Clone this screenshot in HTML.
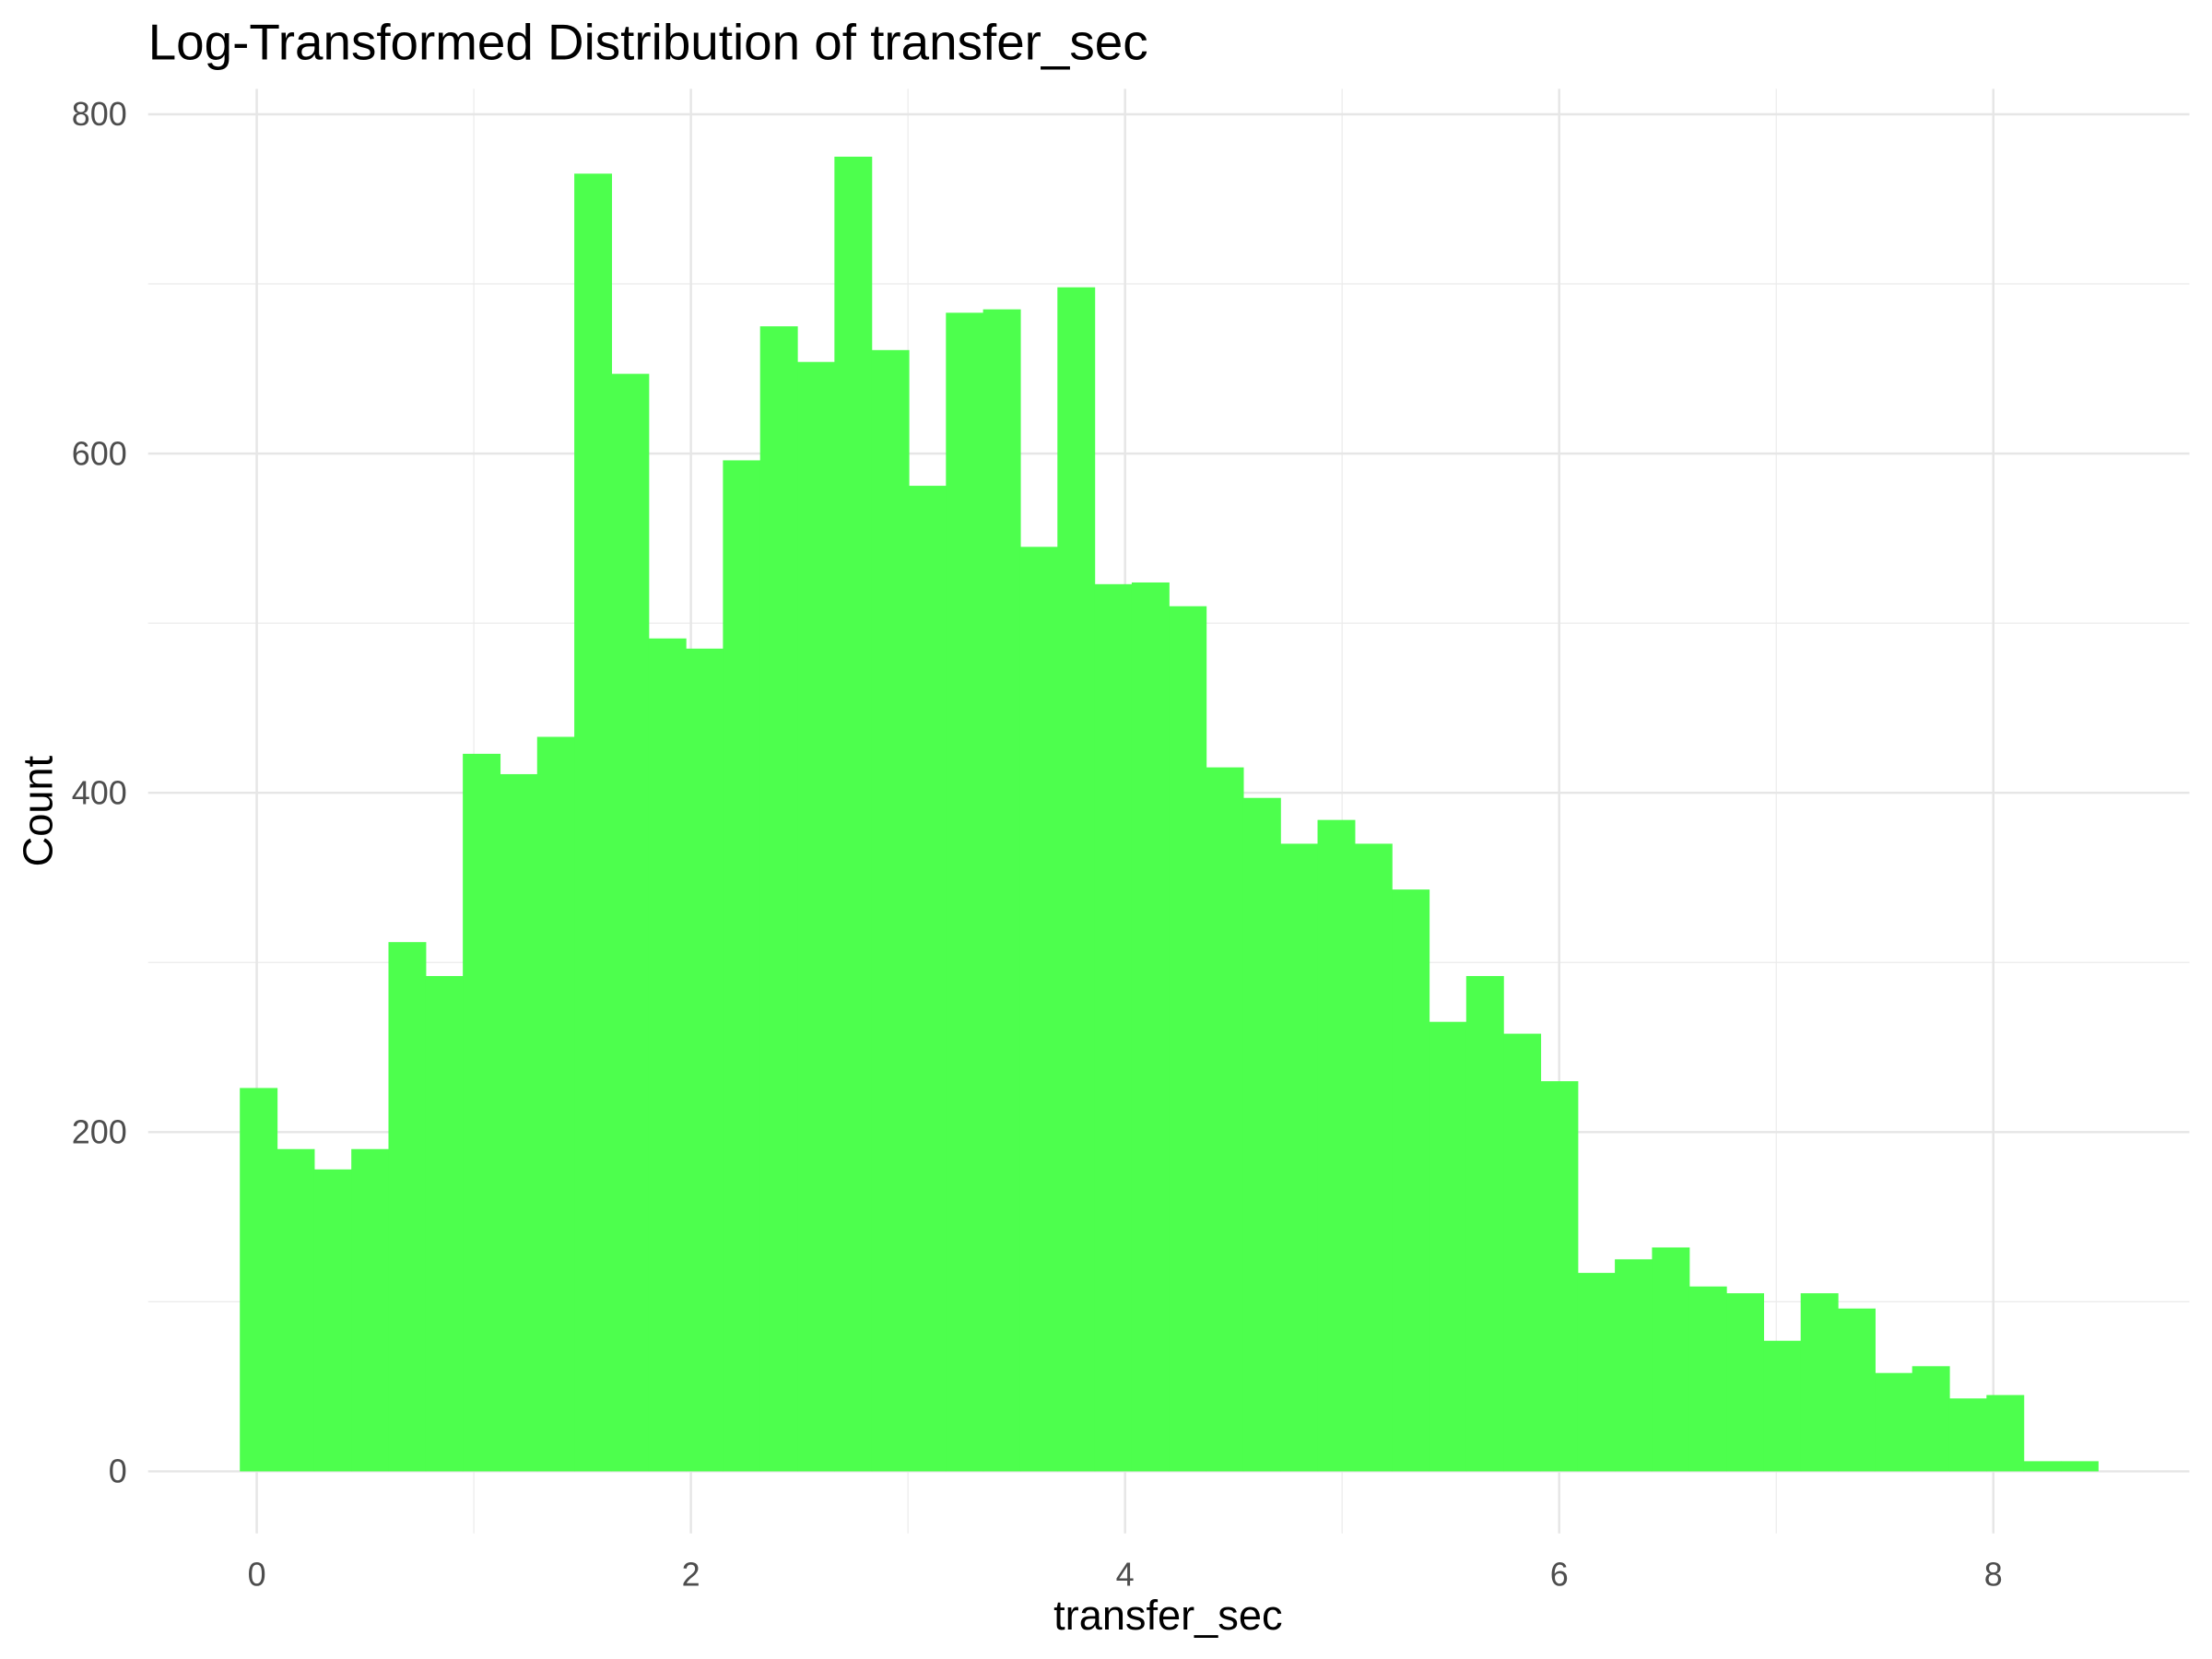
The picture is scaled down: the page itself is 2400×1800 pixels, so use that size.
<!DOCTYPE html>
<html><head><meta charset="utf-8"><style>
html,body{margin:0;padding:0;background:#fff;}
svg{display:block;font-family:"Liberation Sans",Arial,sans-serif;}
</style></head><body>
<svg id="chart" width="2400" height="1800" viewBox="0 0 1568 1176" xmlns="http://www.w3.org/2000/svg">
<g id="grid"></g>
<g id="bars"></g>
<g id="xticks"></g>
<g id="yticks"></g>
<text x="105" y="42" font-size="35.8" fill="#000">Log-Transformed Distribution of transfer_sec</text>
<text x="828" y="1155" font-size="29.5" text-anchor="middle" fill="#000">transfer_sec</text>
<text transform="translate(37,575) rotate(-90)" font-size="29.5" text-anchor="middle" fill="#000">Count</text>
</svg>
<script>
const counts=[226,190,178,190,312,292,423,411,433,765,647,491,485,596,675,654,775,661,581,683,685,545,698,523,524,510,415,397,370,384,370,343,265,292,258,230,117,125,132,109,105,77,105,96,58,62,43,45,6,6];
const binStart=-0.078;
const binWidth=0.1712;
const xTicks=[0,2,4,6,8];
const xMinor=[1,3,5,7];
const yTicks=[0,200,400,600,800];
const yMinor=[100,300,500,700];
const NS="http://www.w3.org/2000/svg";
const X=v=>182+v*(1413-182)/8;
const Y=v=>1043-v*(1043-81)/800;
const L=105,R=1552,T=63,B=1087;
function mk(t,a,p){const e=document.createElementNS(NS,t);for(const k in a)e.setAttribute(k,a[k]);p.appendChild(e);return e;}
const grid=document.getElementById('grid');
yMinor.forEach(v=>{const e=mk('line',{x1:L,x2:R,y1:Y(v),y2:Y(v),stroke:'#ebebeb','stroke-width':0.8},grid);

});
xMinor.forEach(v=>{const e=mk('line',{x1:X(v),x2:X(v),y1:T,y2:B,stroke:'#ebebeb','stroke-width':0.8},grid);

});
yTicks.forEach(v=>{const e=mk('line',{x1:L,x2:R,y1:Y(v),y2:Y(v),stroke:'#e6e6e6','stroke-width':1.6},grid);

});
xTicks.forEach(v=>{const e=mk('line',{x1:X(v),x2:X(v),y1:T,y2:B,stroke:'#e6e6e6','stroke-width':1.6},grid);

});
const bars=document.getElementById('bars');
counts.forEach((c,i)=>{const x0=X(binStart+i*binWidth),x1=X(binStart+(i+1)*binWidth);
const e=mk('rect',{x:x0,y:Y(c),width:x1-x0+0.4,height:Y(0)-Y(c),fill:'#4dff4d'},bars);

});
const xt=document.getElementById('xticks');
xTicks.forEach(v=>{const e=mk('text',{x:X(v),y:1124,'font-size':23.5,'text-anchor':'middle',fill:'#4d4d4d'},xt);e.textContent=v;

});
const yt=document.getElementById('yticks');
yTicks.forEach(v=>{const e=mk('text',{x:90,y:Y(v)+8,'font-size':23.5,'text-anchor':'end',fill:'#4d4d4d'},yt);e.textContent=v;

});
</script>
</body></html>
